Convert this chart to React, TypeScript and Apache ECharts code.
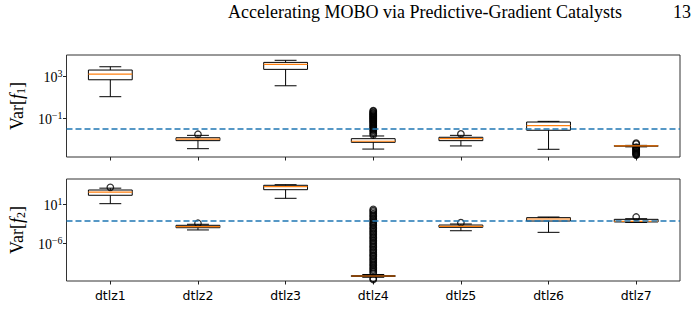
import React, { useEffect, useRef } from "react";
import * as echarts from "echarts";

// Benchmarks shared by both panels
const categories = ["dtlz1", "dtlz2", "dtlz3", "dtlz4", "dtlz5", "dtlz6", "dtlz7"];

// Box statistics per benchmark: [lower whisker, Q1, median, Q3, upper whisker]
const varF1Boxes = [
  [12, 510, 1800, 4400, 9100],
  [1.2e-4, 7.1e-4, 1.0e-3, 1.35e-3, 2.3e-3],
  [135, 5100, 15500, 24000, 38000],
  [1.1e-4, 4.9e-4, 6.2e-4, 1.1e-3, 2.0e-3],
  [2.2e-4, 7.1e-4, 1.1e-3, 1.5e-3, 2.3e-3],
  [1.05e-4, 7.1e-3, 0.0195, 0.044, 0.051],
  [1.8e-4, 2.05e-4, 2.2e-4, 2.35e-4, 2.5e-4],
];

const varF2Boxes = [
  [13, 420, 1600, 3700, 7900],
  [2.5e-4, 6.3e-4, 9.5e-4, 1.7e-3, 2.6e-3],
  [120, 4200, 14500, 26000, 33000],
  [8e-13, 1.1e-12, 1.35e-12, 1.6e-12, 2.5e-12],
  [1.8e-4, 7.4e-4, 1.1e-3, 1.9e-3, 2.9e-3],
  [9.3e-5, 0.01, 0.023, 0.04, 0.052],
  [5.6e-3, 6.8e-3, 8.9e-3, 0.02, 0.026],
];

// Outliers: [benchmark index, value]
const varF1Fliers = [
  [1, 2.9e-3],
  [3, 0.54], [3, 0.46], [3, 0.35], [3, 0.3], [3, 0.25], [3, 0.21], [3, 0.18],
  [3, 0.15], [3, 0.126], [3, 0.105], [3, 0.089], [3, 0.076], [3, 0.063],
  [3, 0.052], [3, 0.044], [3, 0.035], [3, 0.028], [3, 0.022], [3, 0.018],
  [3, 0.014], [3, 0.011], [3, 0.0089], [3, 0.0071], [3, 0.005], [3, 0.0035],
  [3, 0.0025],
  [4, 3.1e-3],
  [6, 4.0e-4], [6, 3.3e-4], [6, 1.66e-4], [6, 1.41e-4], [6, 1.2e-4], [6, 1.02e-4],
  [6, 8.7e-5], [6, 7.4e-5], [6, 6.3e-5], [6, 5.4e-5], [6, 4.6e-5], [6, 3.9e-5],
  [6, 3.4e-5], [6, 2.95e-5],
];

const varF2Fliers = [
  [0, 11200],
  [1, 3.9e-3],
  [3, 1.26], [3, 0.71], [3, 0.4], [3, 0.2], [3, 0.11], [3, 0.063], [3, 0.032],
  [3, 0.018], [3, 0.01], [3, 5e-3], [3, 2.8e-3], [3, 1.6e-3], [3, 7.9e-4],
  [3, 4.5e-4], [3, 2.5e-4], [3, 1.26e-4], [3, 7.1e-5], [3, 4e-5], [3, 2e-5],
  [3, 1.1e-5], [3, 6.3e-6], [3, 3.2e-6], [3, 1.8e-6], [3, 1e-6], [3, 5e-7],
  [3, 2.8e-7], [3, 1.6e-7], [3, 7.9e-8], [3, 4.5e-8], [3, 2.5e-8], [3, 1.26e-8],
  [3, 7.1e-9], [3, 4e-9], [3, 2e-9], [3, 1.1e-9], [3, 6.3e-10], [3, 3.2e-10],
  [3, 1.8e-10], [3, 1e-10], [3, 5e-11], [3, 2.8e-11], [3, 1.6e-11], [3, 7.9e-12],
  [3, 4.5e-12], [3, 5e-13], [3, 3.2e-13],
  [4, 5e-3],
  [6, 0.052],
];

// Reference variance level (dashed line)
const threshold = 0.01;

// Tick values on the log axes
const f1Ticks = [0.1, 1000];
const f2Ticks = [1e-6, 10];

const SERIF = "'Liberation Serif', 'DejaVu Serif', serif";
const SANS = "'DejaVu Sans', sans-serif";

const supLabel = (v: number) => {
  const e = Math.round(Math.log10(v));
  const s = e < 0 ? "\u2212" + Math.abs(e) : String(e);
  return "{b|10}{s|" + s + "}";
};

const tickRich = {
  b: { fontFamily: SERIF, fontSize: 14, lineHeight: 16, verticalAlign: "bottom", color: "#000" },
  s: { fontFamily: SERIF, fontSize: 10, lineHeight: 8, verticalAlign: "top", color: "#000" },
};

const nameRich = {
  n: { fontFamily: SERIF, fontSize: 18, lineHeight: 19, color: "#000" },
  i: { fontFamily: SERIF, fontSize: 18, lineHeight: 19, fontStyle: "italic", color: "#000" },
  sub: { fontFamily: SERIF, fontSize: 12, lineHeight: 10, verticalAlign: "bottom", color: "#000" },
};

const renderBox = (_params: any, api: any) => {
  const x = api.value(0);
  const lo = api.coord([x, api.value(1)]);
  const q1 = api.coord([x, api.value(2)]);
  const md = api.coord([x, api.value(3)]);
  const q3 = api.coord([x, api.value(4)]);
  const hi = api.coord([x, api.value(5)]);
  const band = api.size([1, 1])[0];
  const half = band * 0.25;
  const cap = band * 0.125;
  const cx = md[0];
  const black = { stroke: "#000", lineWidth: 1, fill: null };
  return {
    type: "group",
    children: [
      { type: "line", shape: { x1: cx, y1: q1[1], x2: cx, y2: lo[1] }, style: black },
      { type: "line", shape: { x1: cx, y1: q3[1], x2: cx, y2: hi[1] }, style: black },
      { type: "line", shape: { x1: cx - cap, y1: lo[1], x2: cx + cap, y2: lo[1] }, style: black },
      { type: "line", shape: { x1: cx - cap, y1: hi[1], x2: cx + cap, y2: hi[1] }, style: black },
      {
        type: "rect",
        shape: { x: cx - half, y: q3[1], width: half * 2, height: q1[1] - q3[1] },
        style: { stroke: "#000", lineWidth: 1, fill: "none" },
      },
      {
        type: "line",
        shape: { x1: cx - half, y1: md[1], x2: cx + half, y2: md[1] },
        style: { stroke: "#ff7f0e", lineWidth: 1.2 },
      },
    ],
  };
};

const boxData = (boxes: number[][]) => boxes.map((b, i) => [i, ...b]);

export default function App() {
  const ref = useRef<HTMLDivElement>(null);

  useEffect(() => {
    if (!ref.current) return;
    const chart = echarts.init(ref.current, null, { renderer: "svg" });

    const makeXAxis = (gridIndex: number, showLabels: boolean) => ({
      type: "category",
      gridIndex,
      data: categories,
      boundaryGap: true,
      axisLine: { show: false },
      axisTick: {
        show: true,
        alignWithLabel: true,
        length: 3.5,
        lineStyle: { color: "#222", width: 1 },
      },
      axisLabel: {
        show: showLabels,
        margin: 8,
        fontFamily: SANS,
        fontSize: 12.5,
        color: "#000",
      },
      splitLine: { show: false },
    });

    const makeYAxis = (gridIndex: number, min: number, max: number, ticks: number[], sub: string) => ({
      type: "log",
      logBase: 10,
      gridIndex,
      min,
      max,
      name: "{n|Var[}{i|f}{sub|" + sub + "}{n|]}",
      nameLocation: "middle",
      nameRotate: 90,
      nameGap: 40,
      nameTextStyle: { rich: nameRich },
      axisLine: { show: false },
      axisTick: {
        show: true,
        length: 3.5,
        customValues: ticks,
        lineStyle: { color: "#222", width: 1 },
      },
      axisLabel: {
        show: true,
        margin: 4,
        customValues: ticks,
        formatter: (v: number) => supLabel(v),
        rich: tickRich,
      },
      minorTick: { show: false },
      splitLine: { show: false },
    });

    const thresholdLine = {
      silent: true,
      symbol: ["none", "none"],
      label: { show: false },
      lineStyle: { color: "#1f77b4", width: 1.5, type: [6, 3] },
      data: [{ yAxis: threshold }],
    };

    const flierStyle = {
      color: "rgba(0,0,0,0)",
      borderColor: "#000",
      borderWidth: 1.3,
    };

    chart.setOption({
      animation: false,
      backgroundColor: "#fff",
      grid: [
        { left: 64, right: 14, top: 55, height: 102, show: true, borderColor: "#333", borderWidth: 1, backgroundColor: "transparent" },
        { left: 64, right: 14, top: 179, height: 102, show: true, borderColor: "#333", borderWidth: 1, backgroundColor: "transparent" },
      ],
      xAxis: [makeXAxis(0, false), makeXAxis(1, true)],
      yAxis: [
        makeYAxis(0, 1.9e-5, 1.23e5, f1Ticks, "1"),
        makeYAxis(1, 1.7e-13, 3.5e5, f2Ticks, "2"),
      ],
      graphic: [
        {
          type: "text",
          right: 72,
          top: 3,
          style: {
            text: "Accelerating MOBO via Predictive-Gradient Catalysts",
            font: "18px " + SERIF,
            fill: "#000",
          },
        },
        {
          type: "text",
          right: 3,
          top: 3,
          style: { text: "13", font: "18px " + SERIF, fill: "#000" },
        },
      ],
      series: [
        {
          type: "custom",
          xAxisIndex: 0,
          yAxisIndex: 0,
          renderItem: renderBox,
          encode: { x: 0, y: [1, 2, 3, 4, 5] },
          data: boxData(varF1Boxes),
          z: 3,
        },
        {
          type: "scatter",
          xAxisIndex: 0,
          yAxisIndex: 0,
          symbol: "circle",
          symbolSize: 6.5,
          itemStyle: flierStyle,
          data: varF1Fliers,
          z: 2,
        },
        {
          type: "line",
          xAxisIndex: 0,
          yAxisIndex: 0,
          data: [],
          markLine: thresholdLine,
          z: 4,
        },
        {
          type: "custom",
          xAxisIndex: 1,
          yAxisIndex: 1,
          renderItem: renderBox,
          encode: { x: 0, y: [1, 2, 3, 4, 5] },
          data: boxData(varF2Boxes),
          z: 3,
        },
        {
          type: "scatter",
          xAxisIndex: 1,
          yAxisIndex: 1,
          symbol: "circle",
          symbolSize: 6.5,
          itemStyle: flierStyle,
          data: varF2Fliers,
          z: 2,
        },
        {
          type: "line",
          xAxisIndex: 1,
          yAxisIndex: 1,
          data: [],
          markLine: thresholdLine,
          z: 4,
        },
      ],
    });

    return () => chart.dispose();
  }, []);

  return (
    <div
      ref={ref}
      style={{ position: "absolute", left: 0, top: 0, width: 694, height: 322, background: "#fff" }}
    />
  );
}
